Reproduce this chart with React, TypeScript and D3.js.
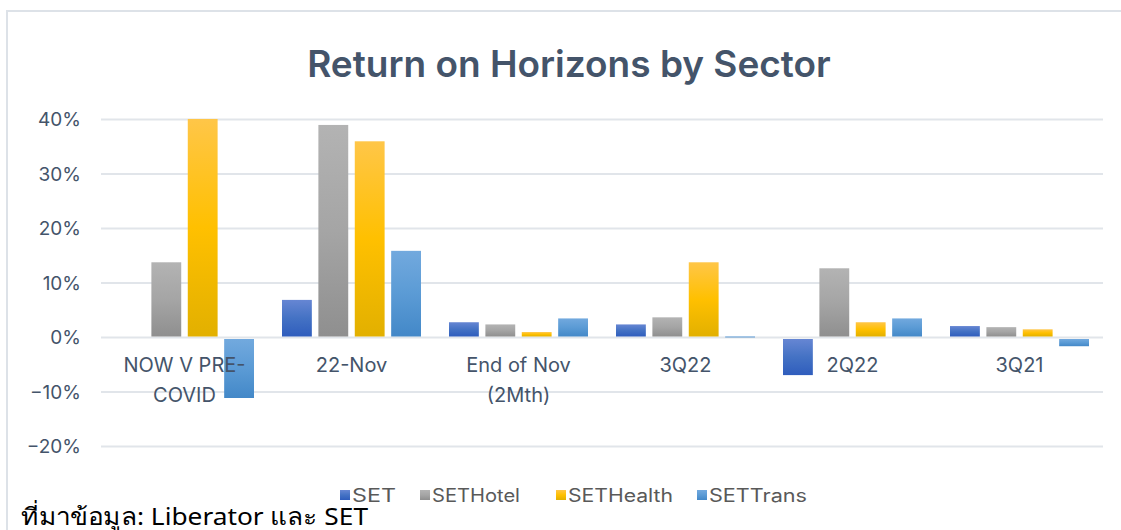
import * as d3 from 'd3'

const categories = [
  ['NOW V PRE-', 'COVID'],
  ['22-Nov'],
  ['End of Nov', '(2Mth)'],
  ['3Q22'],
  ['2Q22'],
  ['3Q21'],
]
const seriesNames = ['SET', 'SETHotel', 'SETHealth', 'SETTrans']
// values in %
const setValues = [null, 6.9, 2.8, 2.4, -6.9, 2.1]
const hotelValues = [13.8, 39.0, 2.4, 3.7, 12.7, 1.9]
const healthValues = [40.1, 36.0, 1.0, 13.8, 2.8, 1.5]
const transValues = [-11.1, 15.9, 3.5, 0.2, 3.5, -1.6]
const yTicks = [-20, -10, 0, 10, 20, 30, 40]

const seriesValues = [setValues, hotelValues, healthValues, transValues]

const gradients = [
  { id: 'gSet', top: '#6686d3', mid: '#4472c4', bottom: '#2f5dbd' },
  { id: 'gHotel', top: '#b3b3b3', mid: '#a5a5a5', bottom: '#8f8f8f' },
  { id: 'gHealth', top: '#ffc648', mid: '#ffc000', bottom: '#e2b000' },
  { id: 'gTrans', top: '#72a9de', mid: '#5b9bd5', bottom: '#4388c8' },
]

const textColor = '#44546a'
const gridColor = '#e1e5ea'
const font = 'Inter, "Noto Sans", sans-serif'

export default function App() {
  const width = 1121
  const height = 530

  const x = d3
    .scaleBand<number>()
    .domain(d3.range(categories.length))
    .range([101, 1103])

  const xInner = d3
    .scaleBand<number>()
    .domain(d3.range(seriesNames.length))
    .range([14, x.bandwidth() - 14])
    .paddingInner(0.18)

  const y = d3.scaleLinear().domain([-20, 40]).range([446.5, 119.5])
  const fmt = (v: number) => d3.format('.0%')(v / 100)

  const legendX = [340, 420, 556, 697]
  const legendW = [44, 88, 105, 98]

  return (
    <div style={{ position: 'fixed', left: 0, top: 0 }}>
      <svg width={width} height={height} style={{ display: 'block', background: '#fff' }}>
        <defs>
          {gradients.map((g) => (
            <linearGradient key={g.id} id={g.id} x1="0" y1="0" x2="0" y2="1">
              <stop offset="0%" stopColor={g.top} />
              <stop offset="50%" stopColor={g.mid} />
              <stop offset="100%" stopColor={g.bottom} />
            </linearGradient>
          ))}
        </defs>

        {/* chart frame */}
        <rect x={7} y={11} width={1200} height={600} fill="#fff" stroke="#dde2e8" strokeWidth={2} />

        <text
          x={569}
          y={77}
          textAnchor="middle"
          fontFamily={font}
          fontSize={37}
          fontWeight={600}
          fill={textColor}
        >
          Return on Horizons by Sector
        </text>

        {/* gridlines + y labels */}
        {yTicks.map((t) => (
          <g key={t}>
            <line x1={101} x2={1103} y1={y(t)} y2={y(t)} stroke={gridColor} strokeWidth={2} />
            <text
              x={81}
              y={y(t)}
              dy="0.35em"
              textAnchor="end"
              fontFamily={font}
              fontSize={19}
              fill={textColor}
            >
              {fmt(t)}
            </text>
          </g>
        ))}

        {/* bars */}
        {categories.map((_, ci) => (
          <g key={ci} transform={`translate(${x(ci)},0)`}>
            {seriesValues.map((vals, si) => {
              const v = vals[ci]
              if (v == null) return null
              const y0 = v >= 0 ? y(v) : y(0) + 1.5
              const h = v >= 0 ? y(0) - 1 - y(v) : y(v) - y(0) - 1.5
              return (
                <rect
                  key={si}
                  x={xInner(si)}
                  y={y0}
                  width={xInner.bandwidth()}
                  height={Math.max(h, 1)}
                  fill={`url(#${gradients[si].id})`}
                />
              )
            })}
          </g>
        ))}

        {/* category labels */}
        {categories.map((lines, ci) => (
          <text
            key={ci}
            x={(x(ci) ?? 0) + x.bandwidth() / 2}
            y={372}
            textAnchor="middle"
            fontFamily={font}
            fontSize={20}
            fill={textColor}
          >
            {lines.map((l, li) => (
              <tspan key={li} x={(x(ci) ?? 0) + x.bandwidth() / 2} dy={li === 0 ? 0 : 30}>
                {l}
              </tspan>
            ))}
          </text>
        ))}

        {/* legend */}
        {seriesNames.map((name, si) => (
          <g key={name}>
            <rect x={legendX[si]} y={490} width={10} height={10} fill={`url(#${gradients[si].id})`} />
            <text
              x={legendX[si] + 12}
              y={502}
              fontFamily={font}
              fontSize={18}
              fill="#595959"
              textLength={legendW[si]}
              lengthAdjust="spacingAndGlyphs"
            >
              {name}
            </text>
          </g>
        ))}

        <text
          x={21}
          y={525}
          fontFamily={'"Noto Sans", sans-serif'}
          fontSize={24}
          fill="#000"
          textLength={347}
          lengthAdjust="spacingAndGlyphs"
        >
          ที่มาข้อมูล: Liberator และ SET
        </text>
      </svg>
    </div>
  )
}
